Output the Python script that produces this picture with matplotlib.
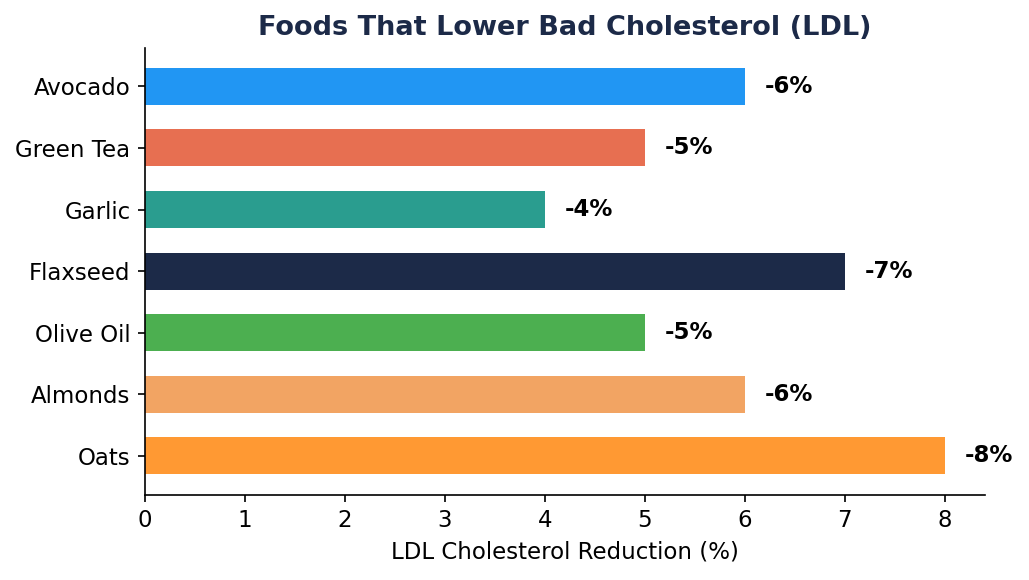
import matplotlib
matplotlib.use("Agg")
import matplotlib.pyplot as plt

foods = ["Oats", "Almonds", "Olive Oil", "Flaxseed", "Garlic", "Green Tea", "Avocado"]
reduction = [8, 6, 5, 7, 4, 5, 6]
labels = ["-8%", "-6%", "-5%", "-7%", "-4%", "-5%", "-6%"]
colors = ["#FF9933", "#F2A463", "#4CAF50", "#1C2A48", "#2A9D8F", "#E76F51", "#2196F3"]

fig, ax = plt.subplots(figsize=(6.86, 3.867), dpi=150)
ax.barh(foods, reduction, height=0.6, color=colors)

for i, (v, lab) in enumerate(zip(reduction, labels)):
    ax.text(v + 0.2, i, lab, va="center", ha="left", fontsize=11, fontweight="bold")

ax.set_xlim(0, 8.4)
ax.set_xlabel("LDL Cholesterol Reduction (%)", fontsize=11)
ax.set_title("Foods That Lower Bad Cholesterol (LDL)", fontsize=13, fontweight="bold", color="#1C2A48")
ax.tick_params(labelsize=11)
ax.spines["right"].set_visible(False)
ax.spines["top"].set_visible(False)

fig.subplots_adjust(left=0.141, right=0.957, top=0.918, bottom=0.147)
fig.savefig("out.png", dpi=150)
